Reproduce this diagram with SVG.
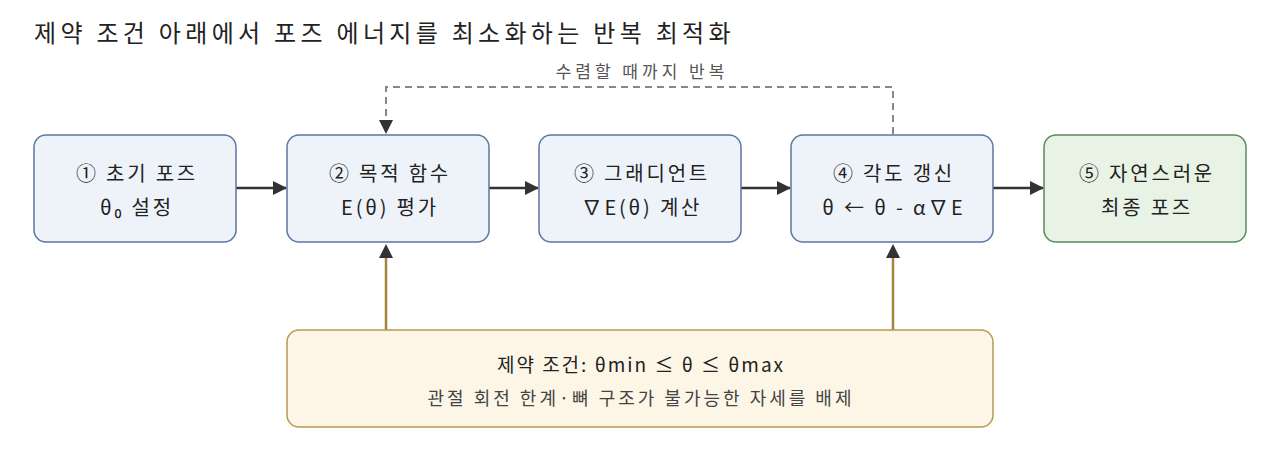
<svg xmlns="http://www.w3.org/2000/svg" width="1280" height="472" viewBox="0 0 1280 472">
<defs>
<style>
text{font-family:"Noto Sans CJK KR","Noto Sans",sans-serif;}
.title{font-size:24px;fill:#222;letter-spacing:4.3px;}
.t{font-size:20px;fill:#222;text-anchor:middle;letter-spacing:2.8px;}
.b{font-size:19px;fill:#222;text-anchor:middle;letter-spacing:2px;}
.s{font-size:18px;fill:#444;text-anchor:middle;letter-spacing:3px;}
.lbl{font-size:17px;fill:#555;text-anchor:middle;letter-spacing:4px;}
.blue{fill:#eef3fa;stroke:#5b77a3;stroke-width:1.5;}
.green{fill:#e8f3e5;stroke:#5a8a5c;stroke-width:1.5;}
.gold{fill:#fdf6e7;stroke:#b8994f;stroke-width:1.5;}
.ar{stroke:#333;stroke-width:2.5;fill:none;}
.dash{stroke:#888;stroke-width:2;fill:none;stroke-dasharray:7 5;}
.up{stroke:#a4833a;stroke-width:2.5;fill:none;}
</style>
<marker id="ahg" markerWidth="14" markerHeight="14" refX="13" refY="7" orient="auto" markerUnits="userSpaceOnUse" viewBox="0 0 14 14"><path d="M0,0 L14,7 L0,14 z" fill="#333"/></marker>
</defs>
<rect width="1280" height="472" fill="#fff"/>
<text class="title" x="34" y="42">제약 조건 아래에서 포즈 에너지를 최소화하는 반복 최적화</text>
<g id="connectors">
<line class="ar" x1="236" y1="188" x2="286" y2="188" marker-end="url(#ahg)"/>
<line class="ar" x1="489" y1="188" x2="538" y2="188" marker-end="url(#ahg)"/>
<line class="ar" x1="741" y1="188" x2="790" y2="188" marker-end="url(#ahg)"/>
<line class="ar" x1="993" y1="188" x2="1043" y2="188" marker-end="url(#ahg)"/>
<path class="dash" d="M893,134 V87 H386 V120"/>
<path d="M379,120 L393,120 L386,134 z" fill="#333"/>
<text class="lbl" x="642" y="78">수렴할 때까지 반복</text>
<line class="up" x1="386" y1="330" x2="386" y2="258"/>
<path d="M379,258 L393,258 L386,244 z" fill="#333"/>
<line class="up" x1="893" y1="330" x2="893" y2="258"/>
<path d="M886,258 L900,258 L893,244 z" fill="#333"/>
</g>
<g id="n1"><rect class="blue" x="34" y="135" width="202" height="107" rx="12"/><text class="t" x="137" y="181">① 초기 포즈</text><text class="t" x="137" y="215">θ₀ 설정</text></g>
<g id="n2"><rect class="blue" x="287" y="135" width="202" height="107" rx="12"/><text class="t" x="390" y="181">② 목적 함수</text><text class="t" x="390" y="215">E(θ) 평가</text></g>
<g id="n3"><rect class="blue" x="539" y="135" width="202" height="107" rx="12"/><text class="t" x="642" y="181">③ 그래디언트</text><text class="t" x="642" y="215">∇E(θ) 계산</text></g>
<g id="n4"><rect class="blue" x="791" y="135" width="202" height="107" rx="12"/><text class="t" x="894" y="181">④ 각도 갱신</text><text class="t" x="894" y="215">θ ← θ - α∇E</text></g>
<g id="n5"><rect class="green" x="1044" y="135" width="202" height="107" rx="12"/><text class="t" x="1147" y="181">⑤ 자연스러운</text><text class="t" x="1147" y="215">최종 포즈</text></g>
<g id="n6"><rect class="gold" x="287" y="330" width="706" height="97" rx="12"/><text class="b" x="641" y="372">제약 조건: θmin ≤ θ ≤ θmax</text><text class="s" x="641" y="405">관절 회전 한계·뼈 구조가 불가능한 자세를 배제</text></g>
</svg>
